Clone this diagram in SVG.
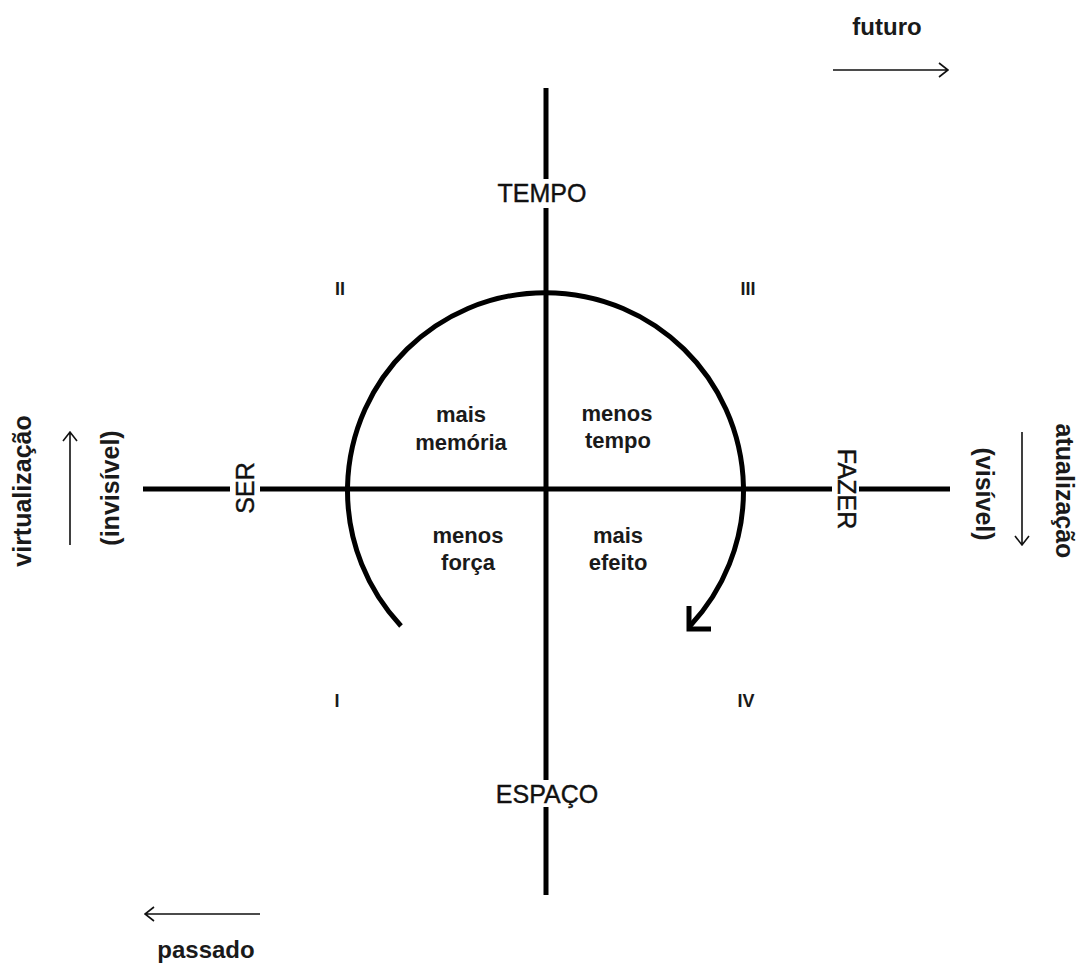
<svg xmlns="http://www.w3.org/2000/svg" width="1080" height="970" viewBox="0 0 1080 970">
<style>
.ax{stroke:#000;stroke-width:5;fill:none}
.thin{stroke:#111;stroke-width:1.6;fill:none}
.lbl{font-family:"Liberation Sans",Arial,sans-serif;font-size:25px;fill:#111;stroke:#111;stroke-width:0.4;text-anchor:middle}
.b{font-family:"Liberation Sans",Arial,sans-serif;font-weight:bold;fill:#1a1a1a;text-anchor:middle}
.q{font-size:18px}
.c{font-size:22px}
.s{font-size:24px}
.v{font-size:25px}
</style>
<rect width="1080" height="970" fill="#fff"/>
<g id="connectors">
<path class="ax" d="M546 88V179M546 208V780M546 807V895"/>
<path class="ax" d="M143 489H230M260 489H832M859 489H950"/>
<path class="ax" stroke-width="4.5" d="M401 626A198 198 0 1 1 690 626"/>
<path class="ax" stroke-linejoin="miter" stroke-linecap="butt" d="M689 606V629H711"/>
<path class="thin" d="M833 70H948M939 63L948 70L939 77"/>
<path class="thin" d="M260 914H145M154 907L145 914L154 921"/>
<path class="thin" d="M70 545V432M63 441L70 432L77 441"/>
<path class="thin" d="M1022 432V545M1015 536L1022 545L1029 536"/>
</g>
<g id="tempo"><text class="lbl" x="542" y="202">TEMPO</text></g>
<g id="espaco"><text class="lbl" x="547" y="803">ESPAÇO</text></g>
<g id="ser"><text class="lbl" transform="translate(254 488) rotate(-90)">SER</text></g>
<g id="fazer"><text class="lbl" transform="translate(838 489) rotate(90)">FAZER</text></g>
<g id="quadrants">
<text class="b q" x="340" y="295">II</text>
<text class="b q" x="748" y="295">III</text>
<text class="b q" x="337" y="707">I</text>
<text class="b q" x="746" y="707">IV</text>
</g>
<g id="q2"><text class="b c" x="461" y="422">mais</text><text class="b c" x="461" y="450">memória</text></g>
<g id="q3"><text class="b c" x="617" y="421">menos</text><text class="b c" x="618" y="448">tempo</text></g>
<g id="q1"><text class="b c" x="468" y="543">menos</text><text class="b c" x="468" y="570">força</text></g>
<g id="q4"><text class="b c" x="618" y="543">mais</text><text class="b c" x="618" y="570">efeito</text></g>
<g id="futuro"><text class="b s" x="887" y="35">futuro</text></g>
<g id="passado"><text class="b s" x="206" y="958">passado</text></g>
<g id="virtualizacao"><text class="b v" transform="translate(31 491) rotate(-90)">virtualização</text></g>
<g id="invisivel"><text class="b v" transform="translate(119 488) rotate(-90)">(invisível)</text></g>
<g id="visivel"><text class="b v" transform="translate(976 494) rotate(90)">(visível)</text></g>
<g id="atualizacao"><text class="b v" transform="translate(1056 491) rotate(90)">atualização</text></g>
</svg>
